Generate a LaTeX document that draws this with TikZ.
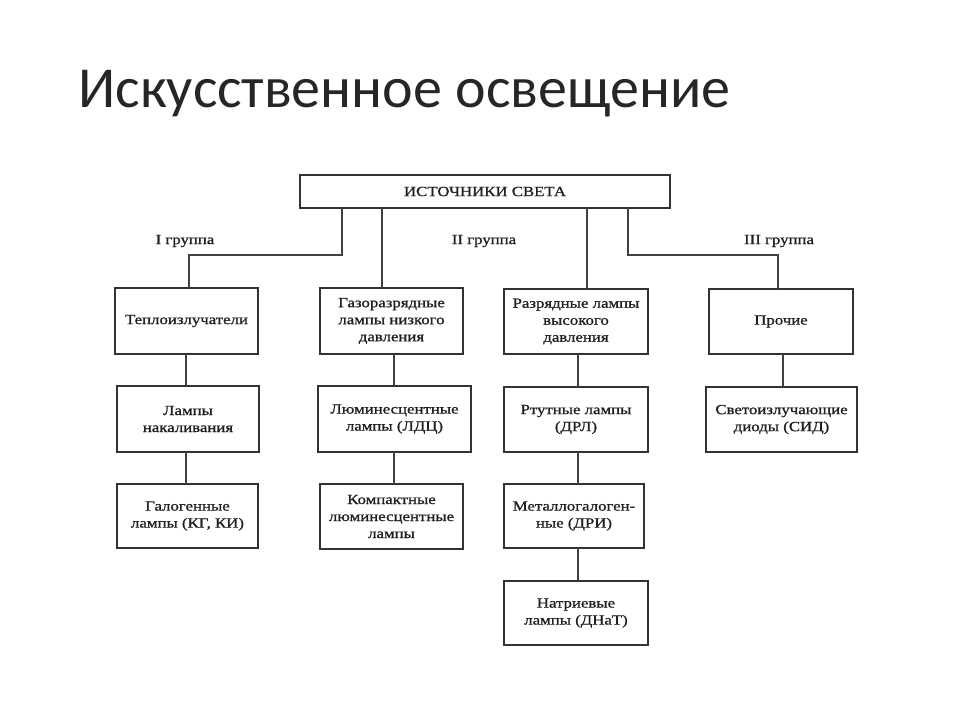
\documentclass[tikz,border=0pt]{standalone}
\usepackage{fontspec}
\usepackage{graphicx}
\setmainfont{Liberation Serif}[FakeBold=0.9]
\newfontfamily\titlefont{Carlito}
\newcommand{\wl}[1]{\scalebox{1.2}[1]{#1}}
\begin{document}
\begin{tikzpicture}[x=0.75pt,y=-0.75pt,
  bx/.style={draw=black!80, line width=1.2pt, fill=white, inner sep=0pt, outer sep=0pt,
     align=center, font=\fontsize{10.5}{12.75}\selectfont, text=black!88},
  conn/.style={draw=black!75, line width=1.4pt},
  grp/.style={font=\fontsize{10.5}{12.75}\selectfont, text=black!88, inner sep=0pt}]
\useasboundingbox[fill=white] (0,0) rectangle (960,720);
\node[anchor=base west, inner sep=0pt, font=\titlefont\fontsize{43.5}{52}\selectfont, text=black!85] (title) at (78,108) {Искусственное освещение};

\node[bx, minimum width=277.5pt, minimum height=24.75pt] (top) at (485,191.5) {\wl{ИСТОЧНИКИ СВЕТА}};

\node[bx, minimum width=107.25pt, minimum height=49.5pt] (b1) at (186.5,321) {\wl{Теплоизлучатели}};
\node[bx, minimum width=107.25pt, minimum height=49.5pt] (b2) at (391.5,321) {\wl{Газоразрядные}\\\wl{лампы низкого}\\\wl{давления}};
\node[bx, minimum width=108pt, minimum height=48.75pt] (b3) at (576,321.5) {\wl{Разрядные лампы}\\\wl{высокого}\\\wl{давления}};
\node[bx, minimum width=108pt, minimum height=48.75pt] (b4) at (781,321.5) {\wl{Прочие}};

\node[bx, minimum width=106.5pt, minimum height=49.5pt] (b5) at (188,419) {\wl{Лампы}\\\wl{накаливания}};
\node[bx, minimum width=114.75pt, minimum height=49.5pt] (b6) at (394.5,419) {\wl{Люминесцентные}\\\wl{лампы (ЛДЦ)}};
\node[bx, minimum width=108pt, minimum height=48.75pt] (b7) at (576,419.5) {\wl{Ртутные лампы}\\\wl{(ДРЛ)}};
\node[bx, minimum width=113.25pt, minimum height=48.75pt] (b8) at (781.5,419.5) {\wl{Светоизлучающие}\\\wl{диоды (СИД)}};

\node[bx, minimum width=105.75pt, minimum height=48pt] (b9) at (187.5,516) {\wl{Галогенные}\\\wl{лампы (КГ, КИ)}};
\node[bx, minimum width=107.25pt, minimum height=48.75pt] (b10) at (391.5,516.5) {\wl{Компактные}\\\wl{люминесцентные}\\\wl{лампы}};
\node[bx, minimum width=105pt, minimum height=48pt] (b11) at (574,516) {\wl{Металлогалоген-}\\\wl{ные (ДРИ)}};
\node[bx, minimum width=108pt, minimum height=48pt] (b12) at (576,613) {\wl{Натриевые}\\\wl{лампы (ДНаТ)}};

\node[grp] (g1) at (185,241) {\wl{I группа}};
\node[grp] (g2) at (484,241) {\wl{II группа}};
\node[grp] (g3) at (779,241) {\wl{III группа}};

% top connectors
\coordinate (k1) at (342,255);
\coordinate (k1b) at (189,255);
\coordinate (k2) at (382,0);
\coordinate (k3) at (587,0);
\coordinate (k4) at (628,255);
\coordinate (k4b) at (778,255);
\draw[conn] (top.south -| k1) -- (k1) -- (k1b) -- (b1.north -| k1b);
\draw[conn] (top.south -| k2) -- (b2.north -| k2);
\draw[conn] (top.south -| k3) -- (b3.north -| k3);
\draw[conn] (top.south -| k4) -- (k4) -- (k4b) -- (b4.north -| k4b);

% column connectors
\coordinate (c1) at (186,0);
\coordinate (c2) at (394,0);
\coordinate (c3) at (578,0);
\coordinate (c4) at (783,0);
\draw[conn] (b1.south -| c1) -- (b5.north -| c1);
\draw[conn] (b5.south -| c1) -- (b9.north -| c1);
\draw[conn] (b2.south -| c2) -- (b6.north -| c2);
\draw[conn] (b6.south -| c2) -- (b10.north -| c2);
\draw[conn] (b3.south -| c3) -- (b7.north -| c3);
\draw[conn] (b7.south -| c3) -- (b11.north -| c3);
\draw[conn] (b11.south -| c3) -- (b12.north -| c3);
\draw[conn] (b4.south -| c4) -- (b8.north -| c4);
\end{tikzpicture}
\end{document}
